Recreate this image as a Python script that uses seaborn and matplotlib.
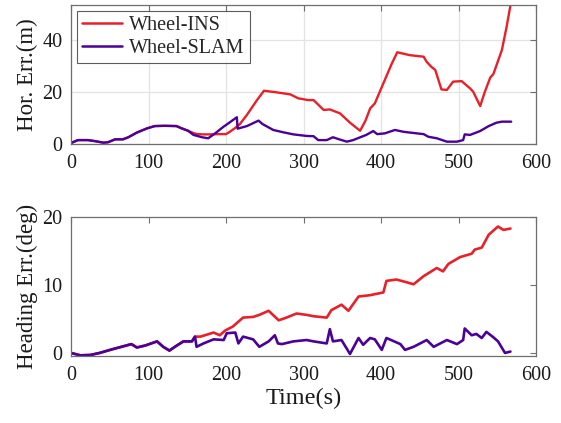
import matplotlib
matplotlib.use("Agg")
import matplotlib.pyplot as plt
import seaborn as sns
import pandas as pd

# ---------------- data ----------------
series_names = ["Wheel-INS", "Wheel-SLAM"]

hor_ins_t = [0, 1, 9, 22, 31, 42, 48, 57, 67, 74, 85, 98, 108, 121, 136, 143, 151, 158, 163, 170, 180, 190,
             200, 205, 212, 218, 227, 240, 249, 265, 283, 293, 306, 313, 326, 334, 347, 360, 373, 380, 386, 392,
             403, 414, 421, 437, 455, 459, 465, 470, 478, 485, 493, 504, 515, 519, 528, 534, 541, 545, 556, 562, 568]
hor_ins_v = [0, 0.5, 1.5, 1.5, 1.1, 0.5, 0.7, 1.8, 1.8, 2.6, 4.4, 6.0, 6.9, 7.0, 6.9, 6.0, 5.1, 4.2, 3.8, 3.7, 3.7, 3.8,
             3.8, 4.7, 6.2, 7.7, 11.2, 16.9, 20.5, 19.9, 19.1, 17.6, 16.9, 16.9, 13.1, 13.3, 11.8, 8.2, 5.1, 9.0, 13.7, 15.6,
             23.3, 31.0, 35.3, 34.2, 33.6, 31.6, 29.7, 28.5, 21.0, 20.8, 24.0, 24.2, 21.4, 20.1, 14.6, 20.1, 25.6, 26.9, 36.2, 45.0, 55.0]

hor_slam_t = [0, 1, 9, 22, 31, 42, 48, 57, 67, 74, 85, 98, 108, 121, 136, 143, 151, 158, 169, 177, 186, 197,
              200, 214, 215, 227, 242, 247, 261, 274, 287, 304, 313, 319, 330, 338, 347, 356, 364, 375, 381, 390,
              395, 405, 418, 429, 446, 455, 461, 472, 485, 498, 506, 508, 515, 528, 539, 549, 556, 568]
hor_slam_v = [0, 0.5, 1.5, 1.5, 1.1, 0.5, 0.7, 1.8, 1.8, 2.6, 4.4, 6.0, 6.9, 7.0, 6.9, 6.0, 5.1, 3.5, 2.6, 2.2, 4.1, 6.7,
              7.3, 10.3, 5.9, 6.9, 9.0, 7.7, 5.4, 4.5, 3.7, 3.1, 3.0, 1.5, 1.5, 2.6, 1.7, 0.9, 1.5, 2.8, 3.5, 5.0,
              3.8, 4.1, 5.4, 4.7, 4.1, 3.8, 2.8, 2.2, 0.9, 0.9, 1.5, 3.7, 3.5, 5.0, 6.9, 8.2, 8.6, 8.6]

head_ins_t = [0, 12, 25, 37, 52, 65, 78, 85, 96, 111, 119, 127, 134, 145, 156, 160, 167, 184, 192, 199, 209, 222,
              235, 243, 255, 268, 278, 291, 304, 313, 330, 336, 349, 358, 371, 386, 403, 407, 420, 433, 442, 455,
              472, 480, 487, 502, 517, 521, 530, 539, 551, 558, 567]
head_ins_v = [0, -0.35, -0.3, 0, 0.5, 0.9, 1.3, 0.8, 1.1, 1.7, 0.9, 0.35, 0.9, 1.7, 1.7, 2.4, 2.4, 3.0, 2.6, 3.3, 3.9, 5.2,
              5.3, 5.6, 6.2, 4.8, 5.2, 5.8, 5.6, 5.4, 5.2, 6.3, 7.1, 6.2, 8.3, 8.5, 8.9, 10.6, 10.8, 10.4, 10.1, 11.3,
              12.5, 12.0, 13.1, 14.1, 14.6, 15.2, 15.5, 17.4, 18.6, 18.1, 18.3]

head_slam_t = [0, 12, 25, 37, 52, 65, 78, 85, 96, 111, 119, 127, 134, 145, 156, 160, 162, 171, 184, 197, 201, 212,
               216, 222, 235, 243, 255, 263, 267, 272, 287, 304, 313, 330, 334, 338, 349, 360, 371, 377, 386, 392,
               401, 407, 425, 431, 442, 459, 468, 485, 498, 506, 508, 517, 523, 530, 536, 545, 551, 560, 567]
head_slam_v = [0, -0.35, -0.3, 0, 0.5, 0.9, 1.3, 0.8, 1.1, 1.7, 0.9, 0.35, 0.9, 1.7, 1.7, 2.4, 0.9, 1.4, 2.0, 1.9, 2.9, 3.0,
               1.4, 2.4, 2.0, 0.9, 1.7, 2.6, 1.4, 1.3, 1.7, 1.9, 1.7, 1.4, 3.5, 1.7, 1.9, -0.15, 2.2, 1.2, 2.2, 2.0,
               0.45, 2.2, 1.3, 0.45, 0.9, 1.9, 0.9, 1.9, 1.3, 1.9, 3.6, 2.6, 2.8, 2.2, 3.1, 2.3, 1.7, 0.0, 0.2]

x_ticks = [0, 100, 200, 300, 400, 500, 600]
hor_yticks = [0, 20, 40]
head_yticks = [0, 10, 20]

# ---------------- styling ----------------
sns.set_style("white")
plt.rcParams["font.family"] = ["Liberation Serif", "DejaVu Serif"]

palette = {"Wheel-INS": "#e8202a", "Wheel-SLAM": "#4b0096"}
FS_TICK = 14.5
FS_LABEL = 16.5
FS_LEG = 14.5
SPINE = "#6e6e6e"
TXT = "#1a1a1a"

def frame(t, v, name):
    return pd.DataFrame({"t": t, "v": v, "method": name})

df_hor = pd.concat([frame(hor_ins_t, hor_ins_v, series_names[0]),
                    frame(hor_slam_t, hor_slam_v, series_names[1])], ignore_index=True)
df_head = pd.concat([frame(head_ins_t, head_ins_v, series_names[0]),
                     frame(head_slam_t, head_slam_v, series_names[1])], ignore_index=True)

fig = plt.figure(figsize=(5.61, 4.23), dpi=100)
ax1 = fig.add_axes([71 / 561, 1 - 144 / 423, 465 / 561, 139 / 423])
ax2 = fig.add_axes([71 / 561, 1 - 356 / 423, 465 / 561, 139 / 423])

sns.lineplot(data=df_hor, x="t", y="v", hue="method", palette=palette, hue_order=series_names,
             estimator=None, sort=False, linewidth=1.7, ax=ax1)
sns.lineplot(data=df_head, x="t", y="v", hue="method", palette=palette, hue_order=series_names,
             estimator=None, sort=False, linewidth=1.9, ax=ax2, legend=False)

for ax in (ax1, ax2):
    ax.set_xlim(0, 600)
    ax.set_xticks(x_ticks)
    ax.set_xticklabels([str(x) for x in x_ticks])
    ax.tick_params(direction="in", top=True, right=True, length=4, width=0.8,
                   color=SPINE, labelsize=FS_TICK, labelcolor=TXT)
    ax.tick_params(axis="x", pad=7)
    ax.tick_params(axis="y", pad=6)
    for s in ax.spines.values():
        s.set_color(SPINE)
        s.set_linewidth(0.9)
    ax.set_xlabel("")

ax1.set_ylim(0, 53.5)
ax1.set_yticks(hor_yticks)
ax1.set_yticklabels([str(y) for y in hor_yticks])
ax1.grid(True, color="#e3e3e3", linewidth=0.9)
ax1.set_axisbelow(True)
ax1.set_ylabel("Hor. Err.(m)", fontsize=FS_LABEL, color=TXT, labelpad=3)

ax2.set_ylim(-0.45, 20)
ax2.set_yticks(head_yticks)
ax2.set_yticklabels([str(y) for y in head_yticks])
ax2.grid(False)
ax2.set_ylabel("Heading Err.(deg)", fontsize=FS_LABEL, color=TXT, labelpad=3)
ax2.set_xlabel("Time(s)", fontsize=FS_LABEL + 1, color=TXT, labelpad=2)

leg = ax1.legend(loc="upper left", fontsize=FS_LEG, frameon=True, fancybox=False,
                 borderaxespad=0.3, handlelength=2.0, handletextpad=0.35,
                 borderpad=0.25, labelspacing=0.2)
leg.get_frame().set_edgecolor("#333333")
leg.get_frame().set_linewidth(0.8)
for line in leg.get_lines():
    line.set_linewidth(1.8)

fig.savefig("out.png", dpi=100)
